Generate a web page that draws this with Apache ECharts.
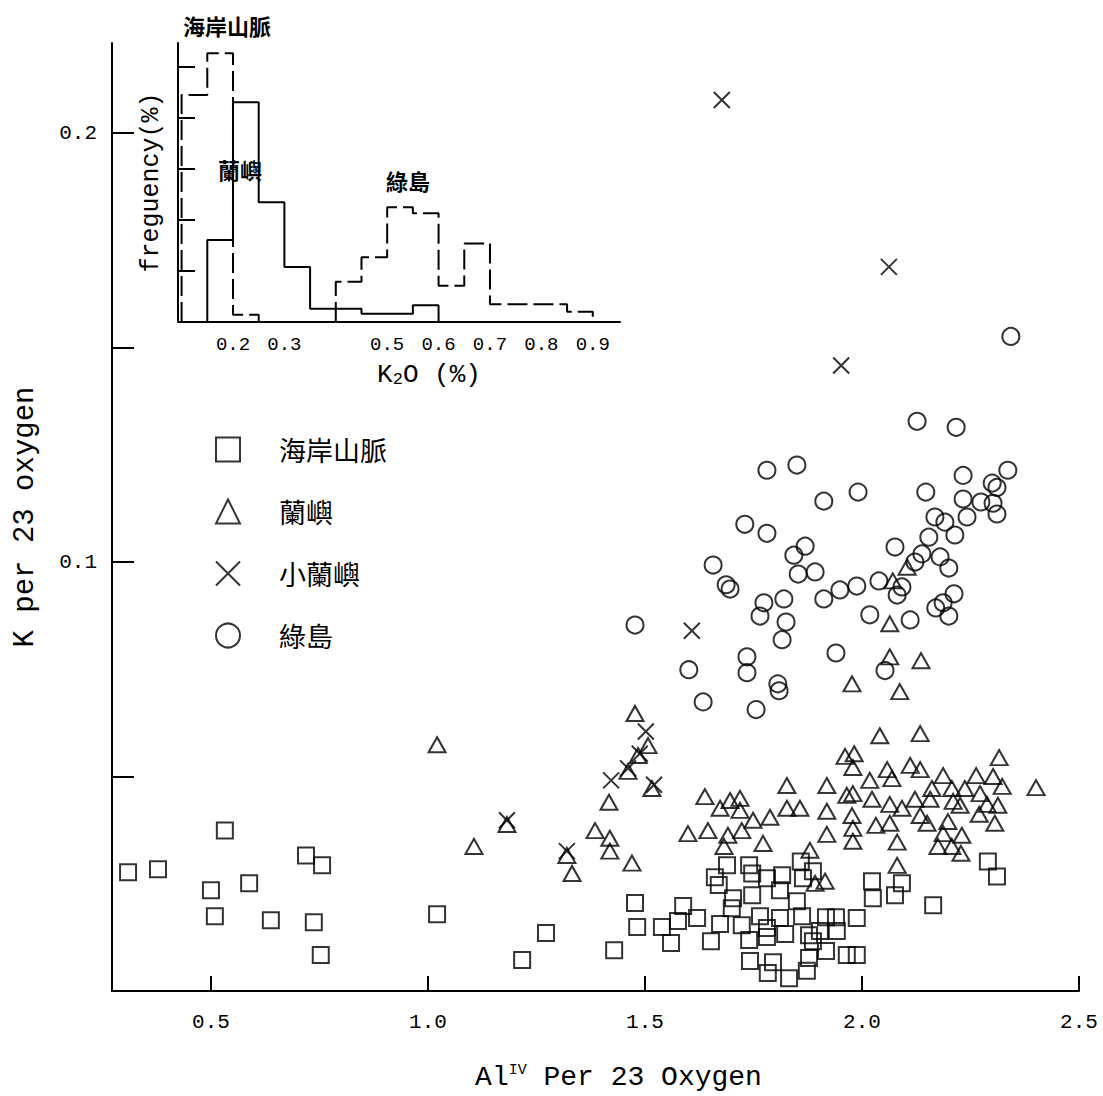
<!DOCTYPE html>
<html><head><meta charset="utf-8">
<script src="https://cdn.jsdelivr.net/npm/echarts@6/dist/echarts.min.js"></script>
<style>html,body{margin:0;padding:0;background:#fff}#c{width:1103px;height:1096px}</style>
</head><body><div id="c"></div>
<script>
// ---- main scatter: Al(IV) per 23 O  vs  K per 23 O ----
const coastalRange = [ // 海岸山脈
[0.309,0.0277],[0.378,0.0284],[0.500,0.0235],[0.509,0.0174],[0.532,0.0374],[0.588,0.0251],[0.638,0.0165],[0.719,0.0316],[0.756,0.0293],[0.737,0.0160],[0.753,0.0084],[1.021,0.0179],[1.217,0.0072],[1.272,0.0135],[1.429,0.0095],[1.477,0.0205],[1.482,0.0149],[1.588,0.0198],[1.539,0.0149],[1.560,0.0112],[1.620,0.0170],[1.673,0.0156],[1.652,0.0116],[1.576,0.0163],
[1.689,0.0293],[1.740,0.0293],[1.661,0.0265],[1.670,0.0247],[1.747,0.0274],[1.781,0.0263],[1.816,0.0270],[1.859,0.0302],[1.887,0.0279],[1.864,0.0263],[1.811,0.0235],[1.703,0.0216],[1.747,0.0223],[1.850,0.0209],[1.700,0.0193],[1.765,0.0174],[1.811,0.0170],[1.862,0.0174],[1.917,0.0172],[1.940,0.0172],[1.988,0.0170],[1.723,0.0153],[1.781,0.0147],[1.823,0.0133],[1.878,0.0130],[1.903,0.0140],[1.942,0.0140],[1.740,0.0119],[1.781,0.0126],[1.887,0.0116],[1.917,0.0093],[1.965,0.0084],[1.988,0.0084],[1.742,0.0070],[1.795,0.0067],[1.878,0.0077],[1.783,0.0042],[1.832,0.0030],[1.873,0.0047],
[2.023,0.0256],[2.092,0.0251],[2.025,0.0216],[2.076,0.0223],[2.164,0.0200],[2.290,0.0302],[2.311,0.0267]];

const lanyu = [ // 蘭嶼
[1.021,0.0574],[1.106,0.0337],[1.182,0.0388],[1.320,0.0316],[1.332,0.0274],[1.385,0.0374],[1.417,0.0440],[1.419,0.0356],[1.419,0.0326],[1.470,0.0298],[1.477,0.0647],[1.461,0.0512],[1.484,0.0549],[1.507,0.0572],[1.516,0.0472],[1.599,0.0367],[1.638,0.0453],[1.645,0.0374],[1.673,0.0426],[1.682,0.0337],[1.691,0.0363],[1.696,0.0444],[1.719,0.0449],[1.719,0.0421],[1.723,0.0374],[1.749,0.0398],[1.772,0.0344],[1.788,0.0405],[1.827,0.0479],[1.827,0.0426],[1.857,0.0426],[1.880,0.0328],[1.892,0.0251],[1.915,0.0256],[1.919,0.0479],[1.919,0.0419],[1.919,0.0365],[1.965,0.0456],[1.979,0.0460],[1.977,0.0409],[1.979,0.0379],[1.979,0.0349],[1.961,0.0547],[1.982,0.0553],[1.979,0.0521],[1.977,0.0716],[2.087,0.0698],[2.041,0.0595],[2.134,0.0600],[2.316,0.0544],[2.401,0.0474],[2.018,0.0491],[2.058,0.0516],[2.069,0.0495],[2.111,0.0526],[2.134,0.0516],[2.187,0.0502],[2.161,0.0472],[2.207,0.0472],[2.237,0.0472],[2.263,0.0502],[2.302,0.0500],[2.323,0.0477],[2.272,0.0460],[2.023,0.0447],[2.064,0.0435],[2.092,0.0426],[2.122,0.0447],[2.157,0.0447],[2.210,0.0442],[2.226,0.0433],[2.288,0.0435],[2.313,0.0433],[2.032,0.0386],[2.064,0.0391],[2.134,0.0409],[2.150,0.0391],[2.198,0.0395],[2.270,0.0412],[2.306,0.0391],[2.081,0.0347],[2.187,0.0367],[2.230,0.0363],[2.175,0.0337],[2.207,0.0337],[2.228,0.0321],[2.081,0.0293],[2.104,0.0988],[2.071,0.0956],[2.064,0.0856],[2.064,0.0779],[2.136,0.0770]];

const xiaoLanyu = [ // 小蘭嶼
[1.677,0.2077],[2.062,0.1688],[1.952,0.1458],[1.608,0.0840],[1.502,0.0605],[1.488,0.0553],[1.461,0.0519],[1.422,0.0491],[1.521,0.0481],[1.182,0.0398],[1.320,0.0326]];

const lvdao = [ // 綠島
[2.343,0.1526],[2.127,0.1328],[2.217,0.1314],[1.781,0.1214],[1.850,0.1226],[2.233,0.1202],[2.336,0.1214],[2.300,0.1184],[2.311,0.1174],[1.912,0.1142],[1.991,0.1163],[2.147,0.1163],[2.233,0.1147],[2.274,0.1140],[2.302,0.1137],[2.311,0.1112],[2.168,0.1105],[2.191,0.1093],[2.242,0.1105],[2.214,0.1063],[2.154,0.1058],[2.076,0.1035],[2.180,0.1012],[2.200,0.0986],[2.138,0.1019],[2.122,0.1000],[1.730,0.1088],[1.781,0.1067],[1.869,0.1037],[1.843,0.1016],[1.657,0.0993],[1.687,0.0947],[1.696,0.0937],[1.853,0.0972],[1.892,0.0977],[1.949,0.0935],[1.988,0.0944],[2.039,0.0956],[2.092,0.0942],[2.081,0.0923],[2.212,0.0926],[2.187,0.0905],[2.170,0.0893],[2.200,0.0874],[2.018,0.0877],[2.111,0.0865],[1.912,0.0914],[1.774,0.0905],[1.765,0.0874],[1.820,0.0914],[1.825,0.0860],[1.816,0.0819],[1.940,0.0788],[1.477,0.0853],[1.735,0.0779],[1.735,0.0742],[1.601,0.0749],[1.806,0.0716],[1.809,0.0700],[1.634,0.0674],[1.756,0.0656],[2.053,0.0747]];

const seriesNames = ['海岸山脈','蘭嶼','小蘭嶼','綠島'];
const xTicks = [0.5,1.0,1.5,2.0,2.5];
const yTicks = [0.05,0.1,0.15,0.2];
const yLabels = [0.1,0.2];

// ---- inset histogram: K2O (%) frequency ----
const binWidth = 0.05;
const coastHistStart = 0.10;
const coastHist = [44.5, 52.7, 1.4];
const lanyuHistStart = 0.15;
const lanyuHist = [16.1, 43.1, 23.5, 10.8, 2.6, 2.6, 1.6, 1.6, 3.3];
const lvdaoHistStart = 0.40;
const lvdaoHist = [7.9, 12.7, 22.5, 21.3, 7.1, 15.4, 3.5, 3.5, 3.5, 2.0];
const insetXLabels = [0.2,0.3,0.5,0.6,0.7,0.8,0.9];
const insetYTicks = [10,20,30,40,50];
const insetLabels = ['海岸山脈','蘭嶼','綠島'];

function stepData(start, heights){
  const d=[[start,0]];
  heights.forEach((h,i)=>d.push([+(start+i*binWidth).toFixed(3), h]));
  d.push([+(start+heights.length*binWidth).toFixed(3), 0]);
  return d;
}

const MONO = "'Liberation Mono','DejaVu Sans Mono',monospace";
const CJK = "'Noto Sans CJK TC','Noto Sans CJK SC',sans-serif";
const stroke = {color:'rgba(0,0,0,0)', borderColor:'#000', borderWidth:2};
const crossPath = 'path://M0,0L10,10M10,0L0,10';

const chart = echarts.init(document.getElementById('c'), null, {renderer:'svg'});
chart.setOption({
  animation:false,
  backgroundColor:'#fff',
  grid:[
    {left:112, right:24, top:43, bottom:103, containLabel:false},
    {left:178, top:43, width:442, height:279, containLabel:false}
  ],
  xAxis:[
    {type:'value', gridIndex:0, min:0.272, max:2.5,
     axisLine:{show:true, onZero:false, lineStyle:{color:'#000', width:2}},
     axisTick:{show:true, inside:true, length:15, customValues:xTicks, lineStyle:{color:'#000', width:2}},
     axisLabel:{customValues:xTicks, formatter:v=>(+v).toFixed(1), margin:21, color:'#000', fontFamily:MONO, fontSize:21},
     splitLine:{show:false},
     name:'Al{sup|IV} Per 23 Oxygen', nameLocation:'middle', nameGap:72,
     nameTextStyle:{color:'#000', fontFamily:MONO, fontSize:28, padding:[0,0,0,46],
       rich:{sup:{fontFamily:MONO, fontSize:15, verticalAlign:'top', color:'#000'}}}},
    {type:'value', gridIndex:1, min:0.093, max:0.953,
     axisLine:{show:true, onZero:false, lineStyle:{color:'#000', width:2}},
     axisTick:{show:false},
     axisLabel:{customValues:insetXLabels, formatter:v=>(+v).toFixed(1), margin:13, color:'#000', fontFamily:MONO, fontSize:19},
     splitLine:{show:false},
     name:'K{sub|2}O (%)', nameLocation:'middle', nameGap:40,
     nameTextStyle:{color:'#000', fontFamily:MONO, fontSize:26, padding:[0,0,0,60],
       rich:{sub:{fontFamily:MONO, fontSize:17, verticalAlign:'bottom', color:'#000'}}}}
  ],
  yAxis:[
    {type:'value', gridIndex:0, min:0, max:0.221,
     axisLine:{show:true, onZero:false, lineStyle:{color:'#000', width:2}},
     axisTick:{show:true, inside:true, length:22, customValues:yTicks, lineStyle:{color:'#000', width:2}},
     axisLabel:{customValues:yLabels, formatter:v=>(+v).toFixed(1), margin:15, color:'#000', fontFamily:MONO, fontSize:21},
     splitLine:{show:false},
     name:'K per 23 oxygen', nameLocation:'middle', nameGap:72,
     nameTextStyle:{color:'#000', fontFamily:MONO, fontSize:29}},
    {type:'value', gridIndex:1, min:0, max:54.7,
     axisLine:{show:true, onZero:false, lineStyle:{color:'#000', width:2}},
     axisTick:{show:true, inside:true, length:17, customValues:insetYTicks, lineStyle:{color:'#000', width:2}},
     axisLabel:{show:false},
     splitLine:{show:false},
     name:'freguency(%)', nameLocation:'middle', nameGap:14,
     nameTextStyle:{color:'#000', fontFamily:MONO, fontSize:25}}
  ],
  legend:{
    data:seriesNames, orient:'vertical', left:210, top:431,
    itemWidth:24, itemHeight:24, itemGap:35, selectedMode:false,
    itemStyle:{color:'rgba(0,0,0,0)', borderColor:'#000', borderWidth:2},
    textStyle:{color:'#000', fontFamily:CJK, fontSize:27, lineHeight:24, padding:[0,0,0,34]}
  },
  graphic:[
    {type:'text', left:183, top:14, style:{text:insetLabels[0], font:"bold 22px 'Noto Sans CJK TC'", fill:'#000'}},
    {type:'text', left:218, top:158, style:{text:insetLabels[1], font:"bold 22px 'Noto Sans CJK TC'", fill:'#000'}},
    {type:'text', left:386, top:169, style:{text:insetLabels[2], font:"bold 22px 'Noto Sans CJK TC'", fill:'#000'}}
  ],
  series:[
    {type:'scatter', name:seriesNames[0], xAxisIndex:0, yAxisIndex:0, data:coastalRange, symbol:'rect', symbolSize:16, itemStyle:stroke, silent:true},
    {type:'scatter', name:seriesNames[1], xAxisIndex:0, yAxisIndex:0, data:lanyu, symbol:'triangle', symbolSize:[17,15], itemStyle:stroke, silent:true},
    {type:'scatter', name:seriesNames[2], xAxisIndex:0, yAxisIndex:0, data:xiaoLanyu, symbol:crossPath, symbolSize:16, itemStyle:stroke, silent:true},
    {type:'scatter', name:seriesNames[3], xAxisIndex:0, yAxisIndex:0, data:lvdao, symbol:'circle', symbolSize:17, itemStyle:stroke, silent:true},
    {type:'line', name:'海岸山脈 K2O', xAxisIndex:1, yAxisIndex:1, data:stepData(coastHistStart, coastHist), step:'end', symbol:'none', silent:true,
     lineStyle:{color:'#000', width:2, type:[20,6]}},
    {type:'line', name:'蘭嶼 K2O', xAxisIndex:1, yAxisIndex:1, data:stepData(lanyuHistStart, lanyuHist), step:'end', symbol:'none', silent:true,
     lineStyle:{color:'#000', width:2}},
    {type:'line', name:'綠島 K2O', xAxisIndex:1, yAxisIndex:1, data:stepData(lvdaoHistStart, lvdaoHist), step:'end', symbol:'none', silent:true,
     lineStyle:{color:'#000', width:2, type:[20,6]}}
  ]
});
</script></body></html>
